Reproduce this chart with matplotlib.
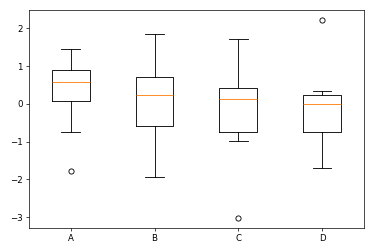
import matplotlib
matplotlib.use('Agg')
import matplotlib.pyplot as plt

# box statistics
labels = ['A', 'B', 'C', 'D']
medians = [0.58, 0.23, 0.12, -0.01]
q1s = [0.08, -0.59, -0.75, -0.75]
q3s = [0.89, 0.71, 0.42, 0.23]
whis_lo = [-0.75, -1.94, -0.99, -1.71]
whis_hi = [1.45, 1.85, 1.72, 0.34]
fliers = [[-1.79], [], [-3.03], [2.22]]


def main():
    stats = []
    for i in range(len(labels)):
        stats.append(dict(label=labels[i], med=medians[i], q1=q1s[i], q3=q3s[i],
                          whislo=whis_lo[i], whishi=whis_hi[i], fliers=fliers[i]))

    fig, ax = plt.subplots(figsize=(6.0, 4.043), dpi=62.33)
    fig.subplots_adjust(left=0.0775, right=0.973, top=0.960, bottom=0.095)
    ax.bxp(stats, widths=0.45)

    plt.savefig('out.png', dpi=62.33)


if __name__ == "__main__":
    main()
